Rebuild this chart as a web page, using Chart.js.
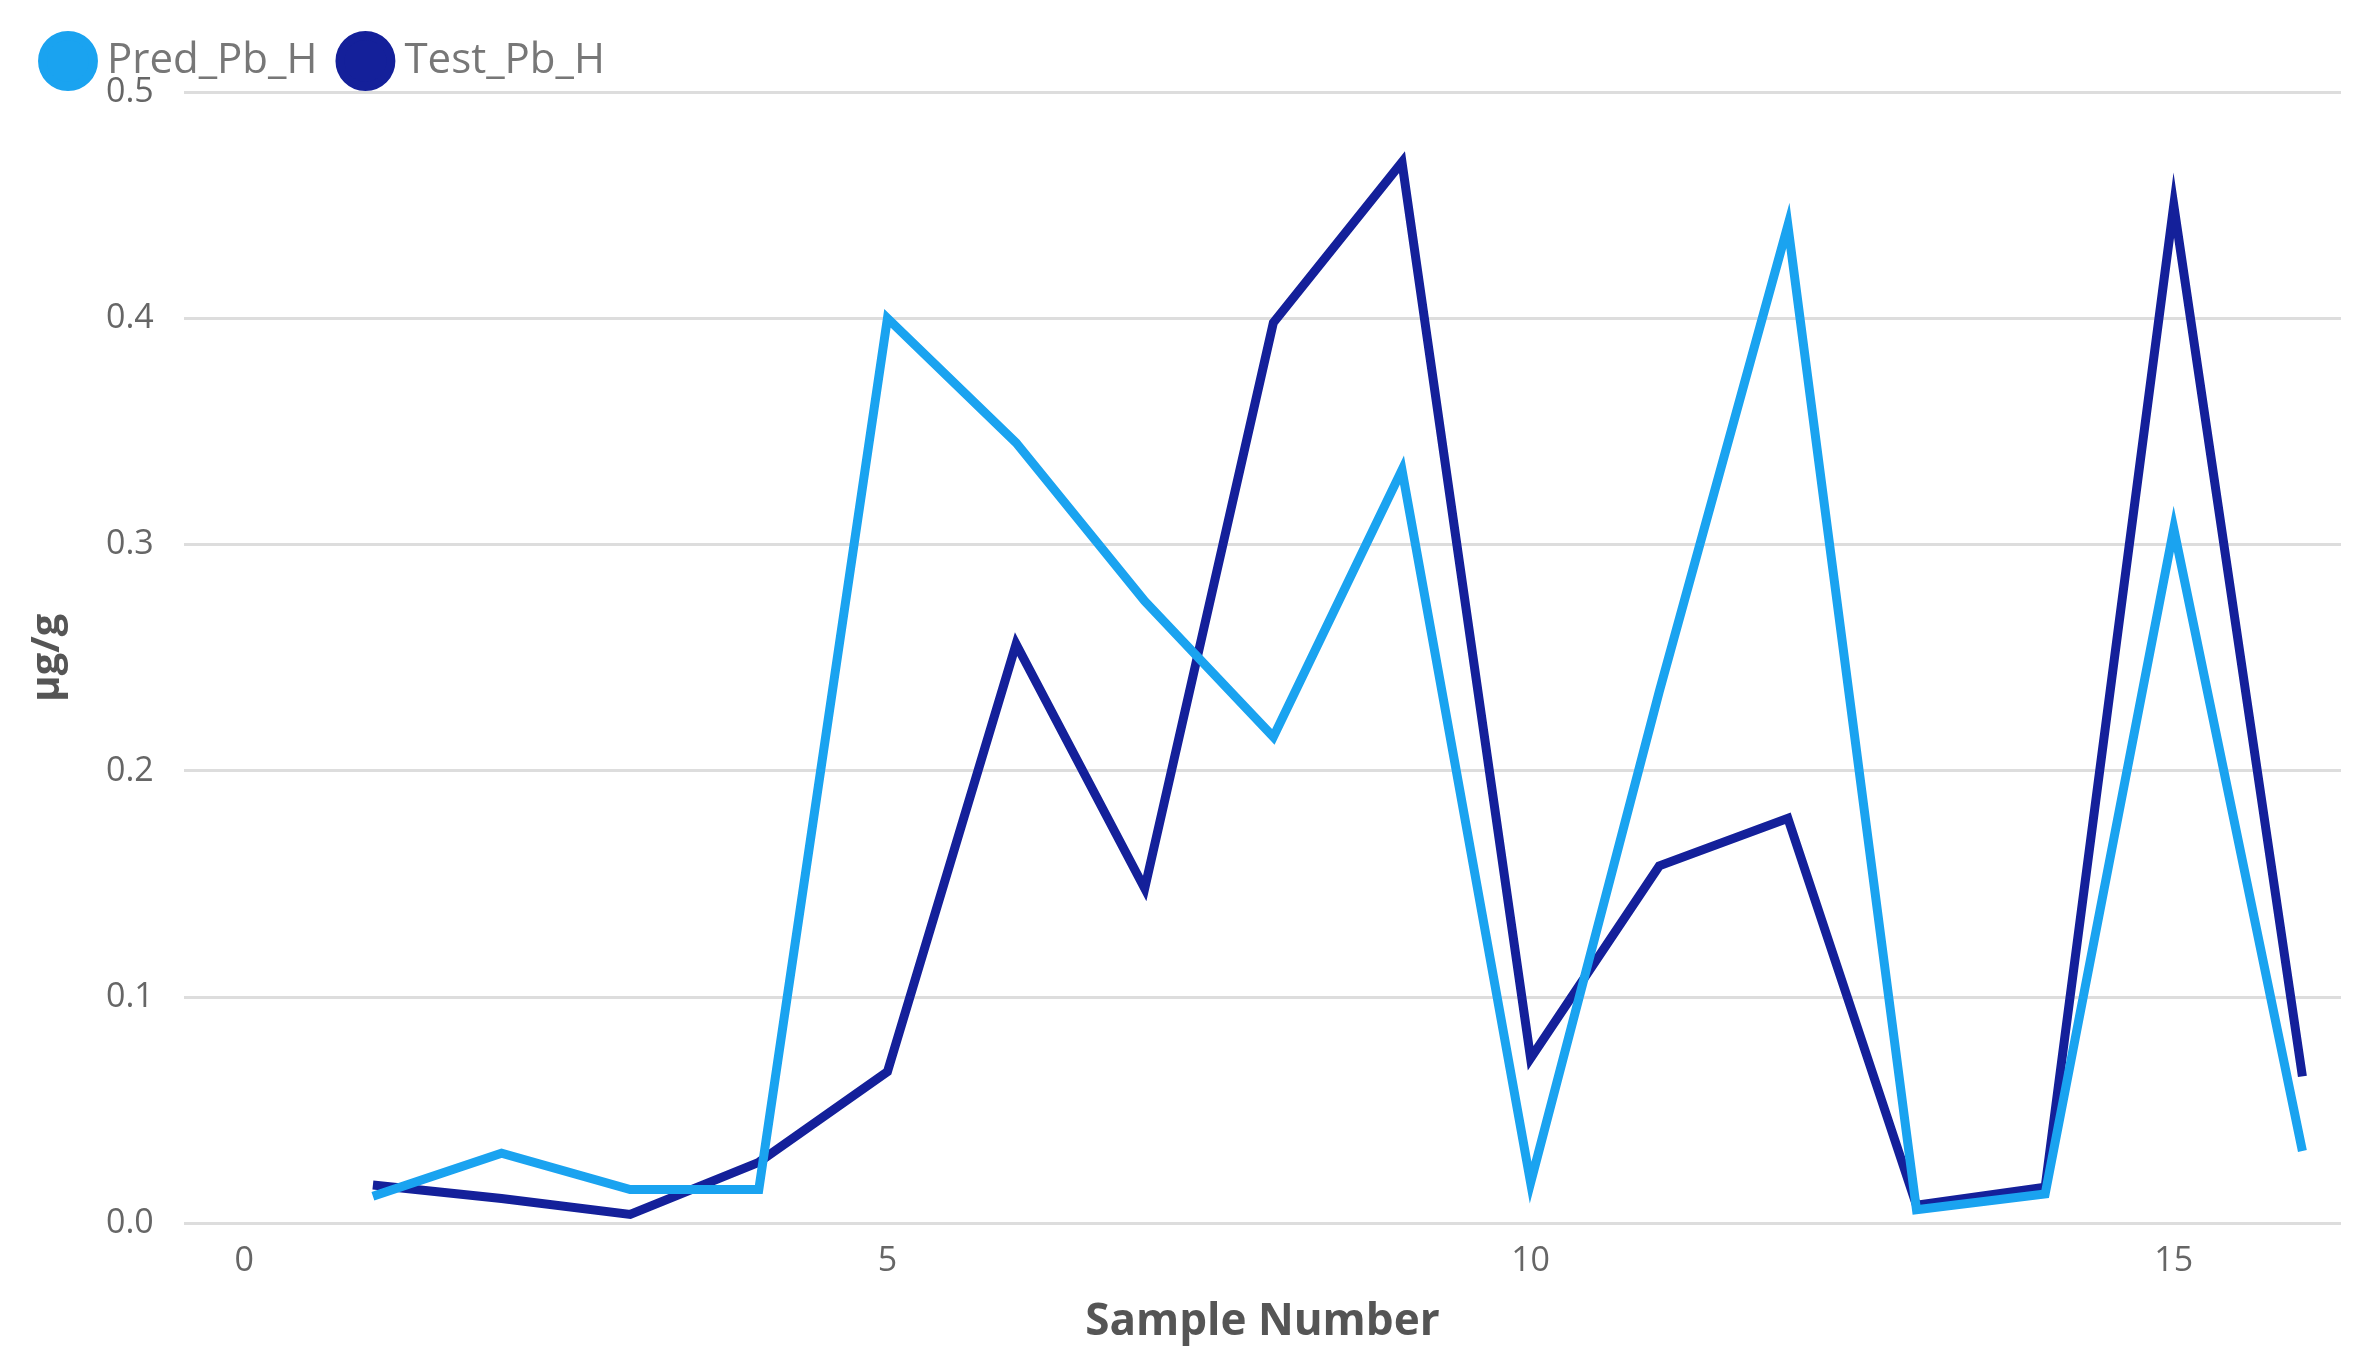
<!DOCTYPE html>
<html>
<head>
<meta charset="utf-8">
<script src="https://cdn.jsdelivr.net/npm/chart.js@4/dist/chart.umd.min.js"></script>
<style>
  html, body { margin: 0; padding: 0; background: #fff; }
  #wrap { width: 2363px; height: 1363px; }
</style>
</head>
<body>
<div id="wrap"><canvas id="mainChart"></canvas></div>
<script>
// sample numbers and series
const sampleNumbers = [1, 2, 3, 4, 5, 6, 7, 8, 9, 10, 11, 12, 13, 14, 15, 16]
const predPbH = [0.012, 0.031, 0.015, 0.015, 0.400, 0.345, 0.275, 0.215, 0.333, 0.018, 0.235, 0.441, 0.006, 0.013, 0.307, 0.032]
const testPbH = [0.017, 0.011, 0.004, 0.027, 0.067, 0.256, 0.148, 0.398, 0.469, 0.073, 0.158, 0.179, 0.008, 0.016, 0.450, 0.065]
const xTicks = [0, 5, 10, 15]
const yTicks = [0, 0.1, 0.2, 0.3, 0.4, 0.5]

const toPoints = (vals) => vals.map((v, i) => ({ x: sampleNumbers[i], y: v }))

const fontFamily = "'Open Sans', 'Noto Sans', sans-serif"
const tickColor = "#666"

new Chart(document.getElementById("mainChart"), {
    type: "line",
    data: {
        datasets: [
            {
                label: "Pred_Pb_H",
                data: toPoints(predPbH),
                borderColor: "#1aa3f0",
                backgroundColor: "#1aa3f0",
                borderWidth: 9,
                pointRadius: 0,
                tension: 0
            },
            {
                label: "Test_Pb_H",
                data: toPoints(testPbH),
                borderColor: "#14209a",
                backgroundColor: "#14209a",
                borderWidth: 9,
                pointRadius: 0,
                tension: 0
            }
        ]
    },
    options: {
        responsive: true,
        maintainAspectRatio: false,
        animation: false,
        devicePixelRatio: 1,
        layout: { padding: { left: 20, right: 22, top: 10, bottom: 10 } },
        plugins: {
            tooltip: { enabled: false },
            legend: {
                position: "top",
                align: "start",
                labels: {
                    usePointStyle: true,
                    pointStyle: "circle",
                    boxWidth: 36,
                    boxHeight: 36,
                    padding: 30,
                    color: "#777",
                    font: { family: fontFamily, size: 42 }
                }
            }
        },
        scales: {
            x: {
                type: "linear",
                min: -0.47,
                max: 16.3,
                afterBuildTicks: (axis) => { axis.ticks = xTicks.map(v => ({ value: v })) },
                grid: { display: false },
                border: { display: false },
                ticks: { color: tickColor, font: { family: fontFamily, size: 34 }, padding: 10 },
                title: {
                    display: true,
                    text: "Sample Number",
                    color: "#555",
                    font: { family: fontFamily, size: 44, weight: "bold" }
                }
            },
            y: {
                min: 0,
                max: 0.5,
                afterBuildTicks: (axis) => { axis.ticks = yTicks.map(v => ({ value: v })) },
                grid: { color: "#ddd", lineWidth: 3, borderDash: [3, 9], drawTicks: false },
                border: { display: false },
                ticks: {
                    color: tickColor,
                    font: { family: fontFamily, size: 34 },
                    padding: 30,
                    callback: (v) => Number(v).toFixed(1)
                },
                title: {
                    display: true,
                    text: "μg/g",
                    color: "#555",
                    font: { family: fontFamily, size: 40, weight: "bold" }
                }
            }
        }
    }
})
</script>
</body>
</html>
